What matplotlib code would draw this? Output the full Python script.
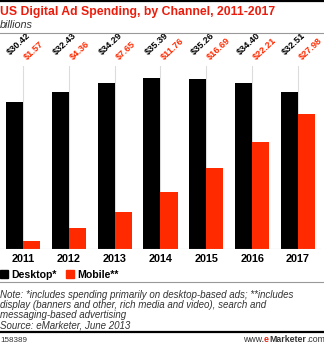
import numpy as np
import matplotlib.pyplot as plt

# data
years = ['2011', '2012', '2013', '2014', '2015', '2016', '2017']
desktop = [30.42, 32.43, 34.29, 35.39, 35.26, 34.40, 32.51]
mobile = [1.57, 4.36, 7.65, 11.76, 16.69, 22.21, 27.98]

RED = '#ff2a00'
TRED = '#ec1c0c'
W, H = 324, 344

plt.rcParams['font.family'] = ['Liberation Sans', 'DejaVu Sans']

fig = plt.figure(figsize=(W / 100, H / 100), dpi=100)


def fx(x):
    return x / W


def fy(y):
    return 1 - y / H


# plot area: group centers at 23 + 45.8*i px, baseline y=249, top y=66
left_px, right_px = 0.1, 320.9
top_px, base_px = 66, 249
ax = fig.add_axes([fx(left_px), fy(base_px), fx(right_px - left_px), (base_px - top_px) / H])
ax.set_xlim(-0.5, 6.5)
ax.set_ylim(0, (base_px - top_px) / 4.83)
for s in ax.spines.values():
    s.set_visible(False)
ax.set_xticks([])
ax.set_yticks([])

x = np.arange(len(years))
w = 0.372
for xi in x:
    ax.axvline(xi, color='#dcdcdc', lw=0.8, zorder=0)
ax.bar(x - w / 2, desktop, w, color='black', zorder=2)
ax.bar(x + w / 2, mobile, w, color=RED, zorder=2)
ax.axhline(0, color='#aaaaaa', lw=0.8, zorder=3)

for xi, d, m in zip(x, desktop, mobile):
    ax.annotate('$%.2f' % d, xy=(xi - w, 1.0), xycoords=('data', 'axes fraction'),
                xytext=(6, 9), textcoords='offset pixels', rotation=43,
                rotation_mode='anchor', ha='left', va='bottom',
                fontsize=6.6, fontweight='bold', color='black', annotation_clip=False)
    ax.annotate('$%.2f' % m, xy=(xi, 1.0), xycoords=('data', 'axes fraction'),
                xytext=(5.5, 4), textcoords='offset pixels', rotation=43,
                rotation_mode='anchor', ha='left', va='bottom',
                fontsize=6.6, fontweight='bold', color=RED, annotation_clip=False)
    ax.annotate(years[xi], xy=(xi, 0), xycoords=('data', 'axes fraction'),
                xytext=(0, -13), textcoords='offset pixels', ha='center', va='baseline',
                fontsize=7.8, fontweight='bold', color='black', annotation_clip=False)

# header
fig.add_artist(plt.Line2D([0, 1], [fy(0.9), fy(0.9)], color='black', lw=1.6))
fig.text(fx(0), fy(15), 'US Digital Ad Spending, by Channel, 2011-2017', color=TRED,
         fontsize=8.8, fontweight='bold', ha='left', va='baseline')
fig.text(fx(0), fy(28), 'billions', color='#333333', fontsize=7.8, style='italic',
         ha='left', va='baseline')
fig.add_artist(plt.Line2D([0, 1], [fy(33), fy(33)], color='#999999', lw=0.8))

# legend
fig.patches.append(plt.Rectangle((fx(0), fy(278)), fx(8), 8 / H, color='black',
                                 transform=fig.transFigure, figure=fig))
fig.text(fx(11), fy(277.5), 'Desktop*', fontsize=7.6, fontweight='bold', ha='left', va='baseline')
fig.patches.append(plt.Rectangle((fx(66), fy(278)), fx(8), 8 / H, color=RED,
                                 transform=fig.transFigure, figure=fig))
fig.text(fx(77), fy(277.5), 'Mobile**', fontsize=7.6, fontweight='bold', ha='left', va='baseline')
fig.add_artist(plt.Line2D([0, 1], [fy(282), fy(282)], color='#999999', lw=0.8))

# notes
notes = ['Note: *includes spending primarily on desktop-based ads; **includes',
         'display (banners and other, rich media and video), search and',
         'messaging-based advertising',
         'Source: eMarketer, June 2013']
for i, line in enumerate(notes):
    fig.text(fx(0), fy(298 + 10 * i), line, fontsize=7.0, style='italic',
             color='#333333', ha='left', va='baseline')
fig.add_artist(plt.Line2D([0, 1], [fy(331.5), fy(331.5)], color='black', lw=1.6))

fig.text(fx(0), fy(342), '158389', fontsize=5.8, color='#333333', ha='left', va='baseline')

# footer logo text, placed piece by piece
r = fig.canvas.get_renderer()
pos = 243
for part, col, wt in [('www.', '#333333', 'normal'), ('e', TRED, 'bold'),
                      ('Marketer', '#333333', 'bold'), ('.com', '#333333', 'normal')]:
    t = fig.text(fx(pos), fy(342), part, fontsize=6.3, color=col, fontweight=wt,
                 ha='left', va='baseline')
    pos += t.get_window_extent(r).width

fig.savefig('out.png', dpi=100)
